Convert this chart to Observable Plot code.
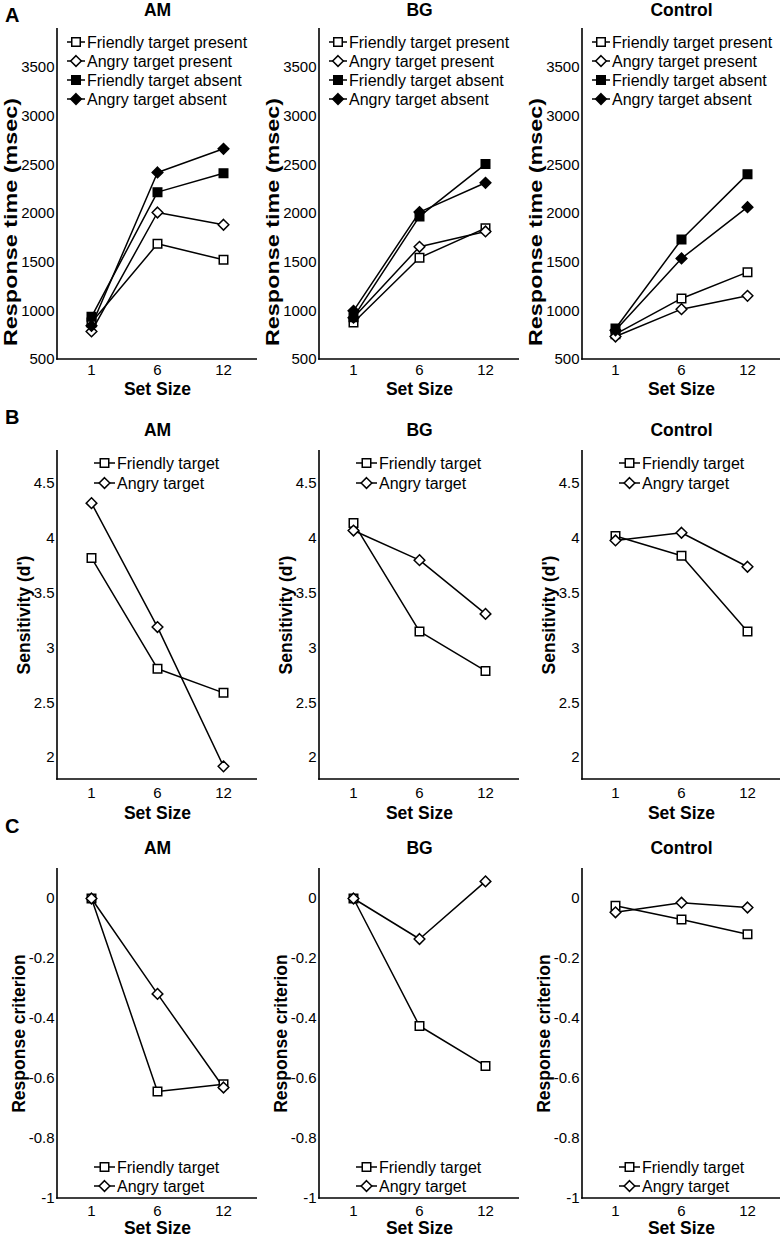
<!DOCTYPE html>
<html><head><meta charset="utf-8">
<script src="https://cdn.jsdelivr.net/npm/d3@7"></script>
<script src="https://cdn.jsdelivr.net/npm/@observablehq/plot@0.6"></script>
<style>
body{margin:0;background:#fff;}
#chart{position:relative;width:782px;height:1237px;overflow:hidden;font-family:"Liberation Sans",Arial,sans-serif;background:#fff;}
.panel{position:absolute;}
.letter{position:absolute;font-weight:bold;font-size:20px;line-height:20px;color:#000;z-index:2;}
</style></head><body><div id="chart"></div>
<script>
// ---------- data ----------
const setSizes = [1, 6, 12];
const groups = ["AM", "BG", "Control"];
const rtSeries = ["Friendly target present", "Angry target present", "Friendly target absent", "Angry target absent"];
const sdtSeries = ["Friendly target", "Angry target"];
// Response time (msec): one row per rtSeries entry, one column per set size
const rtAM      = [[880, 1688, 1524], [788, 2010, 1884], [938, 2219, 2414], [846, 2421, 2664]];
const rtBG      = [[880, 1545, 1849], [930, 1658, 1815], [935, 1970, 2507], [1000, 2014, 2315]];
const rtControl = [[760, 1127, 1397], [736, 1017, 1154], [818, 1733, 2404], [800, 1538, 2065]];
// Sensitivity (d'): rows follow sdtSeries
const dprimeAM      = [[3.82, 2.81, 2.59], [4.32, 3.19, 1.92]];
const dprimeBG      = [[4.14, 3.15, 2.79], [4.07, 3.80, 3.31]];
const dprimeControl = [[4.02, 3.84, 3.15], [3.98, 4.05, 3.74]];
// Response criterion: rows follow sdtSeries
const critAM      = [[0.0, -0.643, -0.619], [0.0, -0.318, -0.630]];
const critBG      = [[0.0, -0.425, -0.558], [0.0, -0.135, 0.057]];
const critControl = [[-0.024, -0.070, -0.119], [-0.046, -0.014, -0.030]];
// axis ticks
const rtTicks = [500, 1000, 1500, 2000, 2500, 3000, 3500];
const dprimeTicks = [2, 2.5, 3, 3.5, 4, 4.5];
const critTicks = [-1, -0.8, -0.6, -0.4, -0.2, 0];
const panelLetters = ["A", "B", "C"];

// ---------- styling helpers ----------
const R = 4.8;
const diamondSym = {draw(ctx, size) { const r = Math.sqrt(size) * 0.62625; ctx.moveTo(0, -r); ctx.lineTo(r, 0); ctx.lineTo(0, r); ctx.lineTo(-r, 0); ctx.closePath(); }};
const squareSym = {draw(ctx, size) { const w = Math.sqrt(size), h = w / 2; ctx.rect(-h, -h, w, w); }};
function symOf(name) { return name.startsWith("Friendly") ? squareSym : diamondSym; }
function fillOf(name) { return name.includes("absent") ? "black" : "white"; }

function axisLines() {
  return (index, scales, values, dims) => {
    const {width, height, marginTop, marginRight, marginBottom, marginLeft} = dims;
    const g = d3.create("svg:g").attr("stroke", "black").attr("stroke-width", 1.6).attr("fill", "none");
    const yb = height - marginBottom;
    g.append("line").attr("x1", marginLeft).attr("x2", marginLeft).attr("y1", marginTop).attr("y2", yb + 0.8);
    g.append("line").attr("x1", marginLeft - 0.8).attr("x2", width - marginRight).attr("y1", yb).attr("y2", yb);
    return g.node();
  };
}

function legendMark(items, {x0, y0, step, fromBottom, lineLen}) {
  return (index, scales, values, dims) => {
    const g = d3.create("svg:g");
    const bx = dims.marginLeft + x0;
    const by = (fromBottom ? dims.height - dims.marginBottom : dims.marginTop) + y0;
    items.forEach((name, i) => {
      const y = by + i * step;
      g.append("line").attr("x1", bx).attr("x2", bx + lineLen).attr("y1", y).attr("y2", y)
        .attr("stroke", "black").attr("stroke-width", 1.5);
      g.append("path").attr("d", d3.symbol(symOf(name), Math.PI * R * R)())
        .attr("transform", `translate(${bx + lineLen / 2},${y})`)
        .attr("fill", fillOf(name)).attr("stroke", "black").attr("stroke-width", 1.5);
      g.append("text").attr("x", bx + lineLen + 2).attr("y", y).attr("dy", "0.35em")
        .attr("text-anchor", "start").style("text-anchor", "start")
        .attr("font-size", 16).attr("fill", "black").text(name);
    });
    return g.node();
  };
}

// ---------- layout ----------
const colLeft = [0, 262, 525];
const colWidth = [257, 257, 255];
const rows = [
  {top: 0,   height: 399, mt: 28, mb: 40, domain: [500, 3900], ticks: rtTicks, ylabel: "Response time (msec)", ylDx: -46, ylDy: 28, ylLen: 248,
   titleDy: -18, tickPad: 5, xlabDy: 30, series: rtSeries, data: [rtAM, rtBG, rtControl],
   legend: {x0: 10, y0: 14, step: 19, fromBottom: false, lineLen: 18}, letterTop: 5},
  {top: 400, height: 420, mt: 50, mb: 41, domain: [1.8, 4.8], ticks: dprimeTicks, ylabel: "Sensitivity (d')", ylDx: -33, ylDy: 0, ylLen: null,
   titleDy: -20, tickPad: 8, xlabDy: 34, series: sdtSeries, data: [dprimeAM, dprimeBG, dprimeControl],
   legend: {x0: 37, y0: 13, step: 20, fromBottom: false, lineLen: 21}, letterTop: 407},
  {top: 820, height: 417, mt: 48, mb: 39, domain: [-1, 0.1], ticks: critTicks, ylabel: "Response criterion", ylDx: -38, ylDy: 0, ylLen: null,
   titleDy: -20, tickPad: 7, xlabDy: 30, series: sdtSeries, data: [critAM, critBG, critControl],
   legend: {x0: 37, y0: -31, step: 19, fromBottom: true, lineLen: 21}, letterTop: 816}
];

const chart = document.getElementById("chart");

rows.forEach((row, ri) => {
  const letter = document.createElement("div");
  letter.className = "letter";
  letter.style.left = "5px";
  letter.style.top = row.letterTop + "px";
  letter.textContent = panelLetters[ri];
  chart.appendChild(letter);

  groups.forEach((grp, ci) => {
    const seriesVals = row.data[ci];
    const marks = [];
    marks.push(axisLines());
    marks.push(Plot.axisY(row.ticks, {tickSize: 0, tickPadding: 3, label: null, tickFormat: d => String(d), fontSize: 15}));
    marks.push(Plot.axisX(setSizes, {tickSize: 0, tickPadding: row.tickPad, label: null, tickFormat: d => String(d), fontSize: 15}));
    row.series.forEach((name, si) => {
      const pts = setSizes.map((s, k) => ({size: s, value: seriesVals[si][k]}));
      marks.push(Plot.line(pts, {x: "size", y: "value", stroke: "black", strokeWidth: 1.5}));
    });
    row.series.forEach((name, si) => {
      const pts = setSizes.map((s, k) => ({size: s, value: seriesVals[si][k]}));
      marks.push(Plot.dot(pts, {x: "size", y: "value", r: R, symbol: symOf(name), fill: fillOf(name), stroke: "black", strokeWidth: 1.5}));
    });
    marks.push(Plot.text([grp], {text: d => d, frameAnchor: "top", dy: row.titleDy, textAnchor: "middle", lineAnchor: "middle", fontSize: 17.5, fontWeight: "bold", fill: "black"}));
    marks.push(Plot.text([row.ylabel], {text: d => d, frameAnchor: "left", rotate: -90, dx: row.ylDx, dy: row.ylDy, textAnchor: "middle", lineAnchor: "middle", fontSize: 17.5, fontWeight: "bold", fill: "black"}));
    marks.push(Plot.text(["Set Size"], {text: d => d, frameAnchor: "bottom", dy: row.xlabDy, textAnchor: "middle", lineAnchor: "middle", fontSize: 17.5, fontWeight: "bold", fill: "black"}));
    marks.push(legendMark(row.series, row.legend));

    const svg = Plot.plot({
      width: colWidth[ci],
      height: row.height,
      marginTop: row.mt,
      marginBottom: row.mb,
      marginLeft: 57,
      marginRight: 0,
      x: {type: "point", domain: setSizes, padding: 0.5},
      y: {domain: row.domain},
      style: {fontFamily: "'Liberation Sans', Arial, sans-serif", fontSize: "15px", color: "black", background: "transparent", overflow: "visible"},
      marks
    });
    if (row.ylLen) {
      svg.querySelectorAll("text").forEach(t => {
        if (t.textContent === row.ylabel) {
          t.setAttribute("textLength", row.ylLen);
          t.setAttribute("lengthAdjust", "spacingAndGlyphs");
        }
      });
    }
    const wrap = document.createElement("div");
    wrap.className = "panel";
    wrap.style.left = colLeft[ci] + "px";
    wrap.style.top = row.top + "px";
    wrap.appendChild(svg);
    chart.appendChild(wrap);
  });
});
</script>
</body></html>
